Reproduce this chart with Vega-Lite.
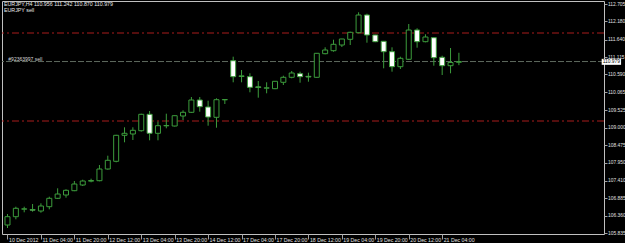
{
  "$schema": "https://vega.github.io/schema/vega-lite/v6.json",
  "width": 602,
  "height": 233,
  "padding": {"left": 1, "top": 1, "right": 0, "bottom": 0},
  "background": "#000000",
  "config": {
    "view": {"stroke": "#c0c0c0", "strokeWidth": 1},
    "font": "Liberation Sans",
    "axis": {"labelOverlap": false, "labelBound": false, "labelFlush": false, "grid": false, "domain": false, "title": null, "labelFont": "Liberation Sans", "labelColor": "#e0e0e0", "tickColor": "#a0a0a0"},
    "axisY": {"labelFontSize": 4.9, "tickSize": 3, "labelPadding": 0.5, "tickCount": 30},
    "axisX": {"labelFontSize": 5.2, "tickSize": 5, "labelPadding": -2, "tickCount": 30}
  },
  "title": {
    "text": "EURJPY,H4  110.956 111.242 110.870 110.979",
    "subtitle": "EURJPY sell",
    "anchor": "start",
    "frame": "group",
    "offset": -12,
    "dx": 2,
    "fontSize": 5.3,
    "font": "Liberation Sans",
    "fontWeight": "normal",
    "color": "#e8e8e8",
    "subtitleColor": "#e8e8e8",
    "subtitleFontSize": 5.3,
    "subtitleFont": "Liberation Sans",
    "subtitlePadding": 0.5
  },
  "datasets": {
    "bars": [
      {"t": "10 Dec 12:00", "i": 0, "open": 106.075, "high": 106.405, "low": 105.985, "close": 106.324},
      {"t": "10 Dec 16:00", "i": 1, "open": 106.324, "high": 106.624, "low": 106.246, "close": 106.576},
      {"t": "10 Dec 20:00", "i": 2, "open": 106.550, "high": 106.624, "low": 106.456, "close": 106.560},
      {"t": "11 Dec 00:00", "i": 3, "open": 106.540, "high": 106.705, "low": 106.474, "close": 106.520},
      {"t": "11 Dec 04:00", "i": 4, "open": 106.495, "high": 106.726, "low": 106.444, "close": 106.645},
      {"t": "11 Dec 08:00", "i": 5, "open": 106.624, "high": 106.924, "low": 106.546, "close": 106.876},
      {"t": "11 Dec 12:00", "i": 6, "open": 106.876, "high": 107.176, "low": 106.855, "close": 107.005},
      {"t": "11 Dec 16:00", "i": 7, "open": 106.975, "high": 107.146, "low": 106.894, "close": 107.116},
      {"t": "11 Dec 20:00", "i": 8, "open": 107.104, "high": 107.395, "low": 107.090, "close": 107.305},
      {"t": "12 Dec 00:00", "i": 9, "open": 107.275, "high": 107.434, "low": 107.245, "close": 107.395},
      {"t": "12 Dec 04:00", "i": 10, "open": 107.390, "high": 107.464, "low": 107.356, "close": 107.410},
      {"t": "12 Dec 08:00", "i": 11, "open": 107.404, "high": 107.875, "low": 107.386, "close": 107.755},
      {"t": "12 Dec 12:00", "i": 12, "open": 107.755, "high": 108.154, "low": 107.734, "close": 108.016},
      {"t": "12 Dec 16:00", "i": 13, "open": 107.986, "high": 108.780, "low": 107.956, "close": 108.766},
      {"t": "12 Dec 20:00", "i": 14, "open": 108.766, "high": 109.006, "low": 108.556, "close": 108.826},
      {"t": "13 Dec 00:00", "i": 15, "open": 108.805, "high": 109.006, "low": 108.625, "close": 108.916},
      {"t": "13 Dec 04:00", "i": 16, "open": 108.904, "high": 109.414, "low": 108.874, "close": 109.396},
      {"t": "13 Dec 08:00", "i": 17, "open": 109.396, "high": 109.495, "low": 108.616, "close": 108.826},
      {"t": "13 Dec 12:00", "i": 18, "open": 108.826, "high": 109.174, "low": 108.616, "close": 109.054},
      {"t": "13 Dec 16:00", "i": 19, "open": 109.050, "high": 109.414, "low": 108.976, "close": 109.060},
      {"t": "13 Dec 20:00", "i": 20, "open": 109.045, "high": 109.360, "low": 109.030, "close": 109.354},
      {"t": "14 Dec 00:00", "i": 21, "open": 109.345, "high": 109.516, "low": 109.225, "close": 109.456},
      {"t": "14 Dec 04:00", "i": 22, "open": 109.456, "high": 109.915, "low": 109.435, "close": 109.825},
      {"t": "14 Dec 08:00", "i": 23, "open": 109.825, "high": 109.915, "low": 109.474, "close": 109.624},
      {"t": "14 Dec 12:00", "i": 24, "open": 109.615, "high": 109.804, "low": 109.054, "close": 109.315},
      {"t": "14 Dec 16:00", "i": 25, "open": 109.306, "high": 109.876, "low": 108.994, "close": 109.834},
      {"t": "14 Dec 20:00", "i": 26, "open": 109.830, "high": 109.850, "low": 109.705, "close": 109.840},
      {"t": "17 Dec 00:00", "i": 27, "open": 111.004, "high": 111.124, "low": 110.356, "close": 110.524},
      {"t": "17 Dec 04:00", "i": 28, "open": 110.530, "high": 110.725, "low": 110.356, "close": 110.550},
      {"t": "17 Dec 08:00", "i": 29, "open": 110.524, "high": 110.626, "low": 110.056, "close": 110.206},
      {"t": "17 Dec 12:00", "i": 30, "open": 110.220, "high": 110.395, "low": 109.894, "close": 110.200},
      {"t": "17 Dec 16:00", "i": 31, "open": 110.180, "high": 110.356, "low": 110.026, "close": 110.190},
      {"t": "17 Dec 20:00", "i": 32, "open": 110.164, "high": 110.390, "low": 110.150, "close": 110.386},
      {"t": "18 Dec 00:00", "i": 33, "open": 110.356, "high": 110.554, "low": 110.275, "close": 110.506},
      {"t": "18 Dec 04:00", "i": 34, "open": 110.506, "high": 110.695, "low": 110.476, "close": 110.635},
      {"t": "18 Dec 08:00", "i": 35, "open": 110.614, "high": 110.674, "low": 110.344, "close": 110.524},
      {"t": "18 Dec 12:00", "i": 36, "open": 110.535, "high": 110.644, "low": 110.374, "close": 110.515},
      {"t": "18 Dec 16:00", "i": 37, "open": 110.506, "high": 111.230, "low": 110.490, "close": 111.226},
      {"t": "18 Dec 20:00", "i": 38, "open": 111.214, "high": 111.406, "low": 111.196, "close": 111.325},
      {"t": "19 Dec 00:00", "i": 39, "open": 111.304, "high": 111.634, "low": 111.274, "close": 111.496},
      {"t": "19 Dec 04:00", "i": 40, "open": 111.475, "high": 111.660, "low": 111.415, "close": 111.655},
      {"t": "19 Dec 08:00", "i": 41, "open": 111.646, "high": 111.874, "low": 111.475, "close": 111.856},
      {"t": "19 Dec 12:00", "i": 42, "open": 111.844, "high": 112.456, "low": 111.826, "close": 112.375},
      {"t": "19 Dec 16:00", "i": 43, "open": 112.375, "high": 112.414, "low": 111.544, "close": 111.775},
      {"t": "19 Dec 20:00", "i": 44, "open": 111.775, "high": 111.780, "low": 111.560, "close": 111.574},
      {"t": "20 Dec 00:00", "i": 45, "open": 111.586, "high": 111.595, "low": 110.776, "close": 111.274},
      {"t": "20 Dec 04:00", "i": 46, "open": 111.274, "high": 111.406, "low": 110.674, "close": 110.824},
      {"t": "20 Dec 08:00", "i": 47, "open": 110.824, "high": 111.124, "low": 110.755, "close": 111.076},
      {"t": "20 Dec 12:00", "i": 48, "open": 111.046, "high": 112.105, "low": 111.025, "close": 111.925},
      {"t": "20 Dec 16:00", "i": 49, "open": 111.925, "high": 111.976, "low": 111.394, "close": 111.574},
      {"t": "20 Dec 20:00", "i": 50, "open": 111.574, "high": 111.796, "low": 111.556, "close": 111.715},
      {"t": "21 Dec 00:00", "i": 51, "open": 111.694, "high": 111.700, "low": 110.854, "close": 111.094},
      {"t": "21 Dec 04:00", "i": 52, "open": 111.106, "high": 111.154, "low": 110.575, "close": 110.854},
      {"t": "21 Dec 08:00", "i": 53, "open": 110.854, "high": 111.385, "low": 110.626, "close": 110.950},
      {"t": "21 Dec 12:00", "i": 54, "open": 110.956, "high": 111.242, "low": 110.870, "close": 110.979}
    ],
    "levels": [{"price": 111.835}, {"price": 109.195}],
    "order": [{"label": "#92363997 sell", "price": 110.979}]
  },
  "layer": [
    {
      "data": {"name": "levels"},
      "mark": {"type": "rule", "color": "#a81c1c", "strokeDash": [7, 3, 2, 3], "strokeWidth": 1},
      "encoding": {
        "y": {
          "field": "price", "type": "quantitative",
          "scale": {"domain": [105.805, 112.795], "nice": false, "zero": false},
          "axis": {
            "orient": "right",
            "values": [112.705, 112.18, 111.64, 111.115, 110.59, 110.065, 109.525, 109, 108.475, 107.95, 107.41, 106.885, 106.36, 105.835],
            "format": ".3f",
            "tickCount": 30,
            "labelOverlap": false
          }
        }
      }
    },
    {
      "data": {"name": "order"},
      "mark": {"type": "rule", "color": "#5e6a5e", "strokeDash": [6, 2], "strokeWidth": 1},
      "encoding": {
        "y": {"field": "price", "type": "quantitative"}
      }
    },
    {
      "data": {"name": "bars"},
      "mark": {"type": "rule", "color": "#3c9c3c", "strokeWidth": 1},
      "encoding": {
        "x": {
          "field": "i", "type": "quantitative",
          "scale": {"domain": [-0.0588, 70.76], "nice": false, "zero": false},
          "axis": {
            "orient": "bottom",
            "values": [0, 4, 8, 12, 16, 20, 24, 28, 32, 36, 40, 44, 48, 52],
            "labelExpr": "['10 Dec 2012','11 Dec 04:00','11 Dec 20:00','12 Dec 12:00','13 Dec 04:00','13 Dec 20:00','14 Dec 12:00','17 Dec 04:00','17 Dec 20:00','18 Dec 12:00','19 Dec 04:00','19 Dec 20:00','20 Dec 12:00','21 Dec 04:00'][round(datum.value / 4)]",
            "labelAlign": "left",
            "labelBaseline": "top",
            "labelOffset": 1,
            "tickCount": 30,
            "labelOverlap": false
          }
        },
        "y": {"field": "low", "type": "quantitative"},
        "y2": {"field": "high"}
      }
    },
    {
      "data": {"name": "bars"},
      "mark": {"type": "bar", "width": 5, "stroke": "#3c9c3c", "strokeWidth": 1},
      "encoding": {
        "x": {"field": "i", "type": "quantitative"},
        "y": {"field": "open", "type": "quantitative"},
        "y2": {"field": "close"},
        "fill": {"condition": {"test": "datum.close < datum.open", "value": "#ffffff"}, "value": "#000000"}
      }
    },
    {
      "data": {"name": "order"},
      "mark": {"type": "text", "align": "left", "baseline": "bottom", "dy": 0, "fontSize": 5, "color": "#d8d8d8", "font": "Liberation Sans"},
      "encoding": {
        "x": {"datum": 0.1, "type": "quantitative"},
        "y": {"field": "price", "type": "quantitative"},
        "text": {"field": "label"}
      }
    },
    {
      "data": {"name": "order"},
      "mark": {"type": "rect", "fill": "#ffffff"},
      "encoding": {
        "x": {"datum": 71.08, "type": "quantitative"},
        "x2": {"datum": 73.4},
        "y": {"datum": 111.06, "type": "quantitative"},
        "y2": {"datum": 110.88}
      }
    },
    {
      "data": {"name": "order"},
      "mark": {"type": "text", "align": "left", "baseline": "middle", "fontSize": 4.9, "color": "#000000", "font": "Liberation Sans"},
      "encoding": {
        "x": {"datum": 71.2, "type": "quantitative"},
        "y": {"field": "price", "type": "quantitative"},
        "text": {"field": "price", "format": ".3f"}
      }
    }
  ]
}
